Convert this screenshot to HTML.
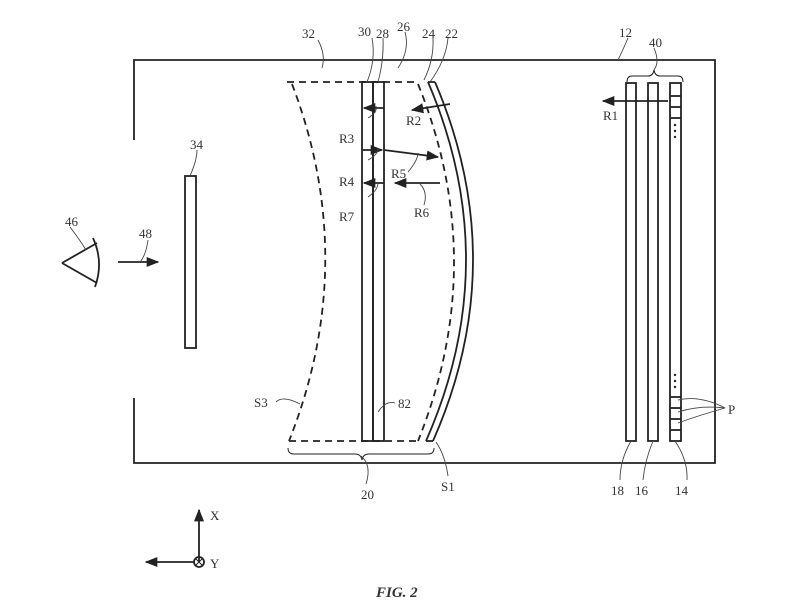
<!DOCTYPE html>
<html><head><style>
html,body{margin:0;padding:0;background:#fff;}
svg{display:block;}
text{font-family:"Liberation Serif",serif;font-size:13px;fill:#333;}
</style></head><body>
<svg width="796" height="608" viewBox="0 0 796 608" xmlns="http://www.w3.org/2000/svg">
<defs><marker id="a" viewBox="0 0 10 10" refX="9" refY="5" markerWidth="7" markerHeight="7" orient="auto"><path d="M0,1 L10,5 L0,9 z" fill="#222"/></marker></defs>
<g fill="none" stroke="#222" stroke-width="1.8">
<path d="M134,140 L134,60 L715,60 L715,463 L134,463 L134,398"/>
<rect x="185" y="176" width="11" height="172"/>
<path d="M62,263 L97,243 M62,263 L97,283" />
<path d="M93,238 Q104,262 95,287"/>
<line x1="118" y1="262" x2="158" y2="262" marker-end="url(#a)"/>
<g stroke-dasharray="7,5">
<path d="M287,82 L418,82"/>
<path d="M289,441 L418,441"/>
<path d="M292,84 Q360,262 289,441"/>
<path d="M418,84 Q490,262 418,441"/>
</g>
<rect x="362" y="82" width="11" height="359"/>
<rect x="373" y="82" width="11" height="359"/>
<path d="M428,82 Q505,262 426,441"/>
<path d="M435,82 Q512,262 433,441"/>
<line x1="426" y1="441" x2="433" y2="441"/>
<line x1="428" y1="82" x2="435" y2="82"/>
<rect x="626" y="83" width="10" height="358"/>
<rect x="648" y="83" width="10" height="358"/>
<rect x="670" y="83" width="11" height="358"/>
<line x1="670" y1="96" x2="681" y2="96"/>
<line x1="670" y1="107" x2="681" y2="107"/>
<line x1="670" y1="118" x2="681" y2="118"/>
<line x1="670" y1="397" x2="681" y2="397"/>
<line x1="670" y1="408" x2="681" y2="408"/>
<line x1="670" y1="419" x2="681" y2="419"/>
<line x1="670" y1="430" x2="681" y2="430"/>
<line x1="668" y1="101" x2="603" y2="101" marker-end="url(#a)"/>
<line x1="450" y1="104" x2="412" y2="110" marker-end="url(#a)"/>
<line x1="384" y1="150" x2="438" y2="157" marker-end="url(#a)"/>
<line x1="440" y1="183" x2="395" y2="183" marker-end="url(#a)"/>
<line x1="384" y1="108" x2="364" y2="108" marker-end="url(#a)"/>
<line x1="362" y1="150" x2="382" y2="150" marker-end="url(#a)"/>
<line x1="384" y1="183" x2="364" y2="183" marker-end="url(#a)"/>
<path d="M627,82 Q627,76 632,76 L648,76 Q653,76 654,70 Q655,76 660,76 L678,76 Q683,76 683,82" stroke-width="1"/>
<path d="M288,448 Q288,454 294,454 L355,454 Q361,454 362,460 Q363,454 369,454 L428,454 Q434,454 434,448" stroke-width="1"/>
<line x1="199" y1="562" x2="199" y2="510" marker-end="url(#a)"/>
<line x1="194" y1="562" x2="146" y2="562" marker-end="url(#a)"/>
<circle cx="199" cy="562" r="5"/>
<path d="M196,559 L202,565 M202,559 L196,565" stroke-width="1"/>
</g>
<g fill="#222"><circle cx="675" cy="125" r="1.2"/><circle cx="675" cy="131" r="1.2"/><circle cx="675" cy="137" r="1.2"/>
<circle cx="675" cy="375" r="1.2"/><circle cx="675" cy="381" r="1.2"/><circle cx="675" cy="387" r="1.2"/></g>
<g fill="none" stroke="#444" stroke-width="0.9">
<path d="M318,40 Q326,55 322,68"/>
<path d="M372,38 Q376,60 367,82"/>
<path d="M383,38 Q384,60 378,82"/>
<path d="M405,32 Q410,50 398,68"/>
<path d="M433,38 Q434,60 424,80"/>
<path d="M448,38 Q446,60 430,82"/>
<path d="M628,38 Q622,52 618,60"/>
<path d="M654,48 Q660,62 654,70"/>
<path d="M197,150 Q197,160 190,176"/>
<path d="M70,227 Q80,240 86,250"/>
<path d="M148,240 Q146,255 140,262"/>
<path d="M368,118 Q378,112 376,106"/>
<path d="M368,160 Q378,155 378,148"/>
<path d="M368,197 Q378,190 378,183"/>
<path d="M408,172 Q418,160 418,153"/>
<path d="M424,205 Q428,192 420,184"/>
<path d="M395,403 Q386,400 378,412"/>
<path d="M276,402 Q283,395 300,404"/>
<path d="M436,442 Q445,455 448,476"/>
<path d="M361,456 Q372,465 366,484"/>
<path d="M631,441 Q620,460 620,480"/>
<path d="M653,441 Q645,460 643,480"/>
<path d="M675,441 Q688,460 687,480"/>
<path d="M678,400 Q700,395 725,408"/>
<path d="M678,412 Q700,405 725,408"/>
<path d="M678,423 Q700,415 725,408"/>
</g>
<text x="302" y="38">32</text>
<text x="358" y="36">30</text>
<text x="376" y="38">28</text>
<text x="397" y="31">26</text>
<text x="422" y="38">24</text>
<text x="445" y="38">22</text>
<text x="619" y="37">12</text>
<text x="649" y="47">40</text>
<text x="190" y="149">34</text>
<text x="65" y="226">46</text>
<text x="139" y="238">48</text>
<text x="603" y="120">R1</text>
<text x="406" y="125">R2</text>
<text x="339" y="143">R3</text>
<text x="339" y="186">R4</text>
<text x="391" y="178">R5</text>
<text x="414" y="217">R6</text>
<text x="339" y="221">R7</text>
<text x="398" y="408">82</text>
<text x="254" y="407">S3</text>
<text x="441" y="491">S1</text>
<text x="361" y="499">20</text>
<text x="611" y="495">18</text>
<text x="635" y="495">16</text>
<text x="675" y="495">14</text>
<text x="728" y="414">P</text>
<text x="210" y="520">X</text>
<text x="210" y="568">Y</text>
<text x="376" y="597" style="font-size:15px;font-style:italic;font-weight:bold">FIG. 2</text>
</svg>
</body></html>
